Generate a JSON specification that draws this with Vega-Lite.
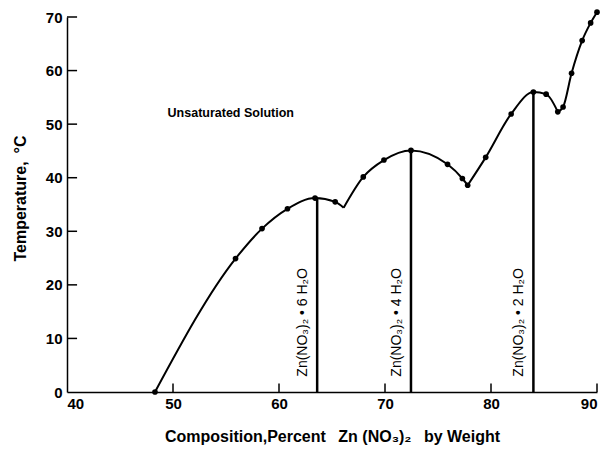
{
  "$schema": "https://vega.github.io/schema/vega-lite/v6.json",
  "width": 530,
  "height": 375,
  "autosize": {"type": "none"},
  "padding": {"left": 67, "top": 17, "right": 9, "bottom": 57},
  "config": {
    "view": {"stroke": null},
    "font": "Liberation Sans",
    "axis": {
      "domainColor": "black",
      "domainWidth": 1.5,
      "grid": false,
      "ticks": false,
      "tickSize": 0,
      "labelColor": "black",
      "labelFont": "Liberation Sans",
      "labelFontSize": 15,
      "labelFontWeight": "bold",
      "titleColor": "black",
      "titleFont": "Liberation Sans",
      "titleFontSize": 16,
      "titleFontWeight": "bold"
    }
  },
  "datasets": {
    "curve": [
      {"x": 48.3, "t": 0.0, "branch": "a", "dot": true},
      {"x": 55.9, "t": 24.9, "branch": "a", "dot": true},
      {"x": 58.4, "t": 30.5, "branch": "a", "dot": true},
      {"x": 60.8, "t": 34.2, "branch": "a", "dot": true},
      {"x": 63.4, "t": 36.2, "branch": "a", "dot": true},
      {"x": 65.3, "t": 35.5, "branch": "a", "dot": true},
      {"x": 66.1, "t": 34.4, "branch": "a", "dot": false},
      {"x": 66.1, "t": 34.4, "branch": "b", "dot": false},
      {"x": 67.95, "t": 40.15, "branch": "b", "dot": true},
      {"x": 69.9, "t": 43.3, "branch": "b", "dot": true},
      {"x": 72.45, "t": 45.1, "branch": "b", "dot": true},
      {"x": 75.9, "t": 42.5, "branch": "b", "dot": true},
      {"x": 77.3, "t": 39.85, "branch": "b", "dot": true},
      {"x": 77.8, "t": 38.6, "branch": "b", "dot": true},
      {"x": 77.8, "t": 38.6, "branch": "c", "dot": false},
      {"x": 79.5, "t": 43.8, "branch": "c", "dot": true},
      {"x": 81.9, "t": 51.9, "branch": "c", "dot": true},
      {"x": 84.0, "t": 56.0, "branch": "c", "dot": true},
      {"x": 85.2, "t": 55.6, "branch": "c", "dot": true},
      {"x": 86.3, "t": 52.3, "branch": "c", "dot": true},
      {"x": 86.3, "t": 52.3, "branch": "d", "dot": false},
      {"x": 86.8, "t": 53.2, "branch": "d", "dot": true},
      {"x": 87.6, "t": 59.5, "branch": "d", "dot": true},
      {"x": 88.6, "t": 65.6, "branch": "d", "dot": true},
      {"x": 89.4, "t": 68.9, "branch": "d", "dot": true},
      {"x": 90.0, "t": 70.9, "branch": "d", "dot": true}
    ],
    "hydrates": [
      {"x": 63.6, "top": 36.2, "label": "Zn(NO₃)₂ • 6 H₂O"},
      {"x": 72.45, "top": 45.1, "label": "Zn(NO₃)₂ • 4 H₂O"},
      {"x": 84.0, "top": 56.0, "label": "Zn(NO₃)₂ • 2 H₂O"}
    ],
    "notes": [
      {"x": 55.45, "t": 52.1, "label": "Unsaturated Solution"}
    ],
    "xticks": [{"v": 50}, {"v": 60}, {"v": 70}, {"v": 80}, {"v": 90}],
    "yticks": [{"v": 10}, {"v": 20}, {"v": 30}, {"v": 40}, {"v": 50}, {"v": 60}, {"v": 70}]
  },
  "layer": [
    {
      "data": {"name": "curve"},
      "mark": {"type": "line", "interpolate": "monotone", "color": "black", "strokeWidth": 2},
      "encoding": {
        "x": {
          "field": "x",
          "type": "quantitative",
          "scale": {"domain": [40, 90], "nice": false, "zero": false},
          "axis": {
            "values": [40, 50, 60, 70, 80, 90],
            "labelPadding": 4,
            "title": "Composition,Percent\u2002 Zn (NO₃)₂\u2002 by Weight",
            "titlePadding": 17
          }
        },
        "y": {
          "field": "t",
          "type": "quantitative",
          "scale": {"domain": [0, 70], "nice": false},
          "axis": {
            "values": [0, 10, 20, 30, 40, 50, 60, 70],
            "labelPadding": 5,
            "title": "Temperature,\u2002°C",
            "titlePadding": 17,
            "titleY": 181
          }
        },
        "detail": {"field": "branch", "type": "nominal"}
      }
    },
    {
      "data": {"name": "xticks"},
      "mark": {"type": "rule", "color": "black", "strokeWidth": 1.5},
      "encoding": {
        "x": {"field": "v", "type": "quantitative"},
        "y": {"datum": 0, "type": "quantitative"},
        "y2": {"datum": 1.6}
      }
    },
    {
      "data": {"name": "yticks"},
      "mark": {"type": "rule", "color": "black", "strokeWidth": 1.5},
      "encoding": {
        "y": {"field": "v", "type": "quantitative"},
        "x": {"datum": 40, "type": "quantitative"},
        "x2": {"datum": 40.95}
      }
    },
    {
      "data": {"name": "curve"},
      "transform": [{"filter": "datum.dot"}],
      "mark": {"type": "point", "filled": true, "color": "black", "size": 32, "opacity": 1},
      "encoding": {
        "x": {"field": "x", "type": "quantitative"},
        "y": {"field": "t", "type": "quantitative"}
      }
    },
    {
      "data": {"name": "hydrates"},
      "mark": {"type": "rule", "color": "black", "strokeWidth": 2.5},
      "encoding": {
        "x": {"field": "x", "type": "quantitative"},
        "y": {"field": "top", "type": "quantitative"},
        "y2": {"datum": 0}
      }
    },
    {
      "data": {"name": "hydrates"},
      "mark": {"type": "text", "angle": 270, "align": "center", "baseline": "middle", "dy": -14, "fontSize": 14, "color": "black"},
      "encoding": {
        "x": {"field": "x", "type": "quantitative"},
        "y": {"datum": 13, "type": "quantitative"},
        "text": {"field": "label", "type": "nominal"}
      }
    },
    {
      "data": {"name": "notes"},
      "mark": {"type": "text", "align": "center", "baseline": "middle", "fontSize": 12.5, "fontWeight": "bold", "color": "black"},
      "encoding": {
        "x": {"field": "x", "type": "quantitative"},
        "y": {"field": "t", "type": "quantitative"},
        "text": {"field": "label", "type": "nominal"}
      }
    }
  ]
}
